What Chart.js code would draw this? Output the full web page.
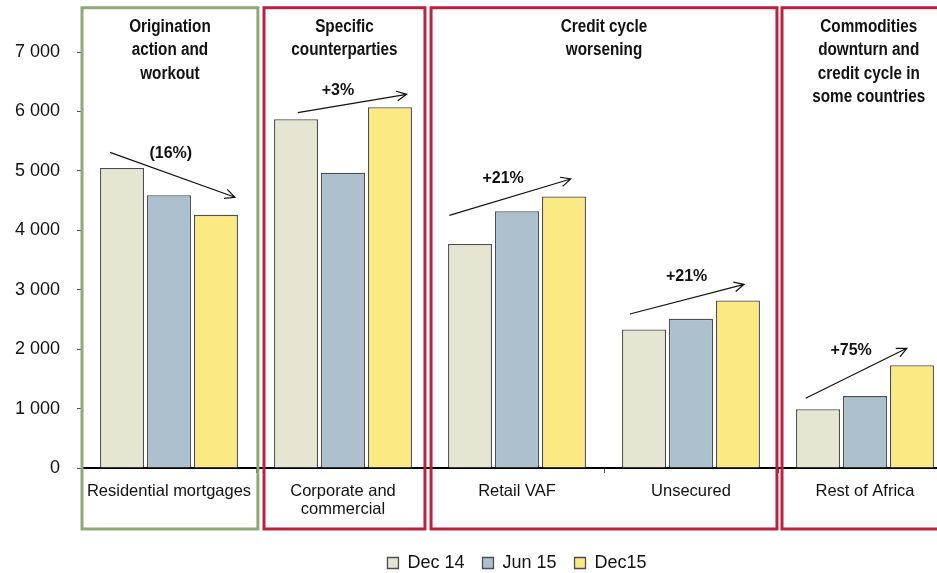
<!DOCTYPE html>
<html>
<head>
<meta charset="utf-8">
<script src="https://cdn.jsdelivr.net/npm/chart.js@4.4.0/dist/chart.umd.min.js"></script>
<style>
  html, body { margin: 0; padding: 0; background: #fff; overflow: hidden; }
  #wrap { width: 960px; height: 573px; }
</style>
</head>
<body>
<div id="wrap"><canvas id="impairmentChart" width="960" height="573"></canvas></div>
<script>
// Chart data
const categories = [['Residential mortgages'], ['Corporate and', 'commercial'], ['Retail VAF'], ['Unsecured'], ['Rest of Africa']];
const seriesNames = ['Dec 14', 'Jun 15', 'Dec15'];
const dec14 = [5050, 5870, 3770, 2330, 990];
const jun15 = [4590, 4970, 4320, 2510, 1210];
const dec15 = [4260, 6070, 4570, 2820, 1730];
const yTicks = [0, 1000, 2000, 3000, 4000, 5000, 6000, 7000];

// Change annotations, one per category
const changeLabels = ['(16%)', '+3%', '+21%', '+21%', '+75%'];

// Group headers
const groupTitles = [
  ['Origination', 'action and', 'workout'],
  ['Specific', 'counterparties'],
  ['Credit cycle', 'worsening'],
  ['Commodities', 'downturn and', 'credit cycle in', 'some countries']
];

// Styles and placement
const barColors = ['#e6e5d2', '#adc0ce', '#fbe983'];
const textFont = '"Liberation Sans", Arial, Helvetica, sans-serif';

// group boxes in category-index units
const groupBoxes = [
  { from: -0.5, to: 0.511, color: '#8fa878' },
  { from: 0.546, to: 1.471, color: '#be213f' },
  { from: 1.506, to: 3.494, color: '#be213f' },
  { from: 3.523, to: 4.52, color: '#be213f' }
];
const boxTopValue = 7745;
const boxBottomValue = -1026;

// arrows: [category offset, value] for start, end and label
const arrowSpecs = [
  { from: [-0.339, 5312], to: [0.379, 4555], label: [0.01, 5284] },
  { from: [-0.26, 5979], to: [0.366, 6288], label: [-0.029, 6349] },
  { from: [-0.389, 4252], to: [0.309, 4863], label: [-0.08, 4863] },
  { from: [-0.351, 2591], to: [0.305, 3091], label: [-0.025, 3219] },
  { from: [-0.341, 1173], to: [0.24, 2014], label: [-0.08, 1969] }
];

const decorations = {
  id: 'decorations',
  afterDraw(chart) {
    const { ctx, scales: { x, y } } = chart;
    ctx.save();

    // trend arrows and their labels
    ctx.strokeStyle = '#111';
    ctx.fillStyle = '#111';
    ctx.lineWidth = 1.2;
    arrowSpecs.forEach((a, i) => {
      const x1 = x.getPixelForValue(i + a.from[0]);
      const y1 = y.getPixelForValue(a.from[1]);
      const x2 = x.getPixelForValue(i + a.to[0]);
      const y2 = y.getPixelForValue(a.to[1]);
      const ang = Math.atan2(y2 - y1, x2 - x1);
      ctx.beginPath();
      ctx.moveTo(x1, y1);
      ctx.lineTo(x2, y2);
      ctx.moveTo(x2 - 11 * Math.cos(ang - 0.45), y2 - 11 * Math.sin(ang - 0.45));
      ctx.lineTo(x2, y2);
      ctx.lineTo(x2 - 11 * Math.cos(ang + 0.45), y2 - 11 * Math.sin(ang + 0.45));
      ctx.stroke();

      ctx.font = 'bold 16px ' + textFont;
      ctx.textAlign = 'center';
      ctx.textBaseline = 'middle';
      ctx.fillText(changeLabels[i], x.getPixelForValue(i + a.label[0]), y.getPixelForValue(a.label[1]));
    });

    // group boxes with headers (condensed bold text)
    const top = y.getPixelForValue(boxTopValue);
    const bottom = y.getPixelForValue(boxBottomValue);
    ctx.lineWidth = 3;
    groupBoxes.forEach((b, i) => {
      const left = x.getPixelForValue(b.from);
      const right = x.getPixelForValue(b.to);
      ctx.strokeStyle = b.color;
      ctx.strokeRect(left, top, right - left, bottom - top);

      const cx = (left + right) / 2;
      ctx.save();
      ctx.translate(cx, 0);
      ctx.scale(0.85, 1);
      ctx.font = 'bold 18px ' + textFont;
      ctx.fillStyle = '#111';
      ctx.textAlign = 'center';
      ctx.textBaseline = 'middle';
      groupTitles[i].forEach((line, k) => {
        ctx.fillText(line, 0, top + 19 + k * 23.5);
      });
      ctx.restore();
    });

    ctx.restore();
  }
};

const ctx = document.getElementById('impairmentChart').getContext('2d');
const impairmentChart = new Chart(ctx, {
  type: 'bar',
  data: {
    labels: categories,
    datasets: [dec14, jun15, dec15].map((values, i) => ({
      label: seriesNames[i],
      data: values,
      backgroundColor: barColors[i],
      borderColor: '#4d4d4d',
      borderWidth: 1.3,
      categoryPercentage: 0.81,
      barPercentage: 0.936
    }))
  },
  options: {
    responsive: false,
    animation: false,
    layout: { padding: { top: 52, right: 8, left: 0, bottom: -9 } },
    plugins: {
      legend: {
        position: 'bottom',
        fullSize: false,
        labels: {
          boxWidth: 11,
          boxHeight: 11,
          padding: 18,
          color: '#111',
          font: { size: 18, family: textFont }
        }
      },
      tooltip: { enabled: false }
    },
    scales: {
      x: {
        grid: { drawOnChartArea: false, tickLength: 5, color: '#555' },
        border: { color: '#000', width: 2 },
        ticks: {
          color: '#111',
          padding: 9,
          maxRotation: 0,
          autoSkip: false,
          font: { size: 16.5, family: textFont, lineHeight: 1.1 }
        },
        afterFit: s => { s.height = 68; }
      },
      y: {
        min: 0,
        max: 7000,
        afterBuildTicks: s => { s.ticks = yTicks.map(v => ({ value: v })); },
        grid: { drawOnChartArea: false, tickLength: 5, color: '#555' },
        border: { display: false },
        ticks: {
          color: '#111',
          padding: 17,
          font: { size: 18, family: textFont },
          callback: v => v.toLocaleString('en-US').replace(',', ' ')
        },
        afterFit: s => { s.width = 82; }
      }
    }
  },
  plugins: [decorations]
});
</script>
</body>
</html>
